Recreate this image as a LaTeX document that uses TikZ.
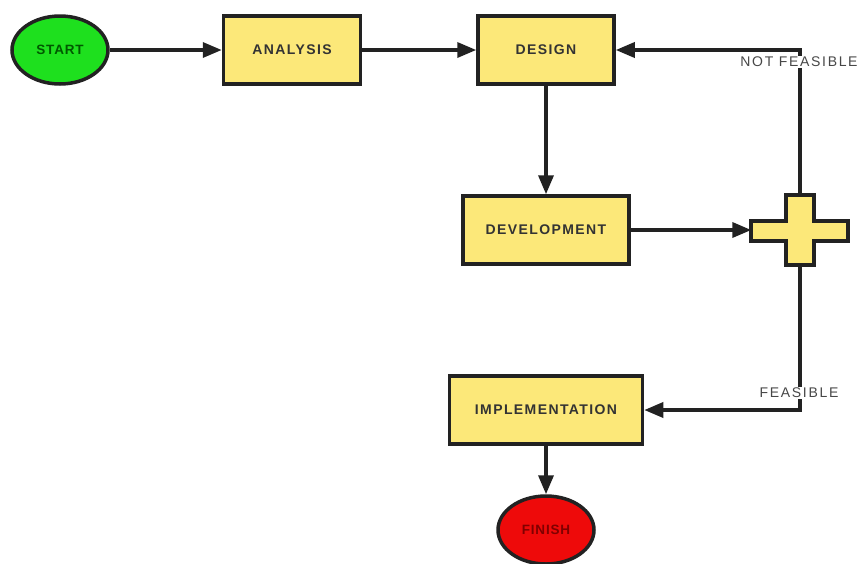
\documentclass[tikz,border=0pt]{standalone}
\usepackage{fontspec}
\setmainfont{Liberation Sans}
\usetikzlibrary{arrows.meta,shapes.geometric}
\definecolor{boxyellow}{HTML}{FCE879}
\definecolor{startgreen}{HTML}{1EE01E}
\definecolor{finishred}{HTML}{EE0A0A}
\definecolor{edgegray}{HTML}{222222}
\begin{document}
\begin{tikzpicture}[x=1pt,y=-1pt,
  stepbox/.style={draw=edgegray,line width=3.5pt,fill=boxyellow,minimum height=68pt,inner sep=0pt,font=\bfseries\fontsize{14}{16}\selectfont\addfontfeatures{LetterSpace=10},text=black!80},
  term/.style={ellipse,draw=edgegray,line width=3.5pt,minimum width=96pt,minimum height=68pt,inner sep=0pt,font=\bfseries\fontsize{13.5}{15}\selectfont\addfontfeatures{LetterSpace=6}},
  conn/.style={draw=edgegray,line width=3.5pt,-{Triangle[length=19pt,width=15pt]}},
  lbl/.style={fill=white,inner sep=1pt,text=black!72,font=\fontsize{14}{16}\selectfont\addfontfeatures{LetterSpace=12}}]
\useasboundingbox (0,0) rectangle (864,563);
\node[term,fill=startgreen,text=green!35!black] (start) at (60,50) {START};
\node[stepbox,minimum width=137pt] (analysis) at (292,50) {ANALYSIS};
\node[stepbox,minimum width=136pt] (design) at (546,50) {DESIGN};
\node[stepbox,minimum width=166pt] (dev) at (546,230) {DEVELOPMENT};
\node[stepbox,minimum width=193pt] (impl) at (546,410) {IMPLEMENTATION};
\node[term,fill=finishred,text=red!50!black] (finish) at (546,530) {FINISH};
\node[minimum width=97pt,minimum height=70pt,inner sep=0pt] (plus) at (800,230) {};
\filldraw[fill=boxyellow,draw=edgegray,line width=3.5pt]
  (786,195) -- (814,195) -- (814,221) -- (848,221) -- (848,241) -- (814,241) -- (814,265)
  -- (786,265) -- (786,241) -- (751,241) -- (751,221) -- (786,221) -- cycle;
\draw[conn] (start) -- (analysis);
\draw[conn] (analysis) -- (design);
\draw[conn] (design) -- (dev);
\draw[conn] (dev) -- (plus.west);
\draw[conn] (plus.north) |- (design.east);
\draw[conn] (plus.south) |- (impl.east);
\draw[conn] (impl) -- (finish);
\node[lbl] (nf) at (799,62) {NOT FEASIBLE};
\node[lbl] (fe) at (799,393) {FEASIBLE};
\end{tikzpicture}
\end{document}
